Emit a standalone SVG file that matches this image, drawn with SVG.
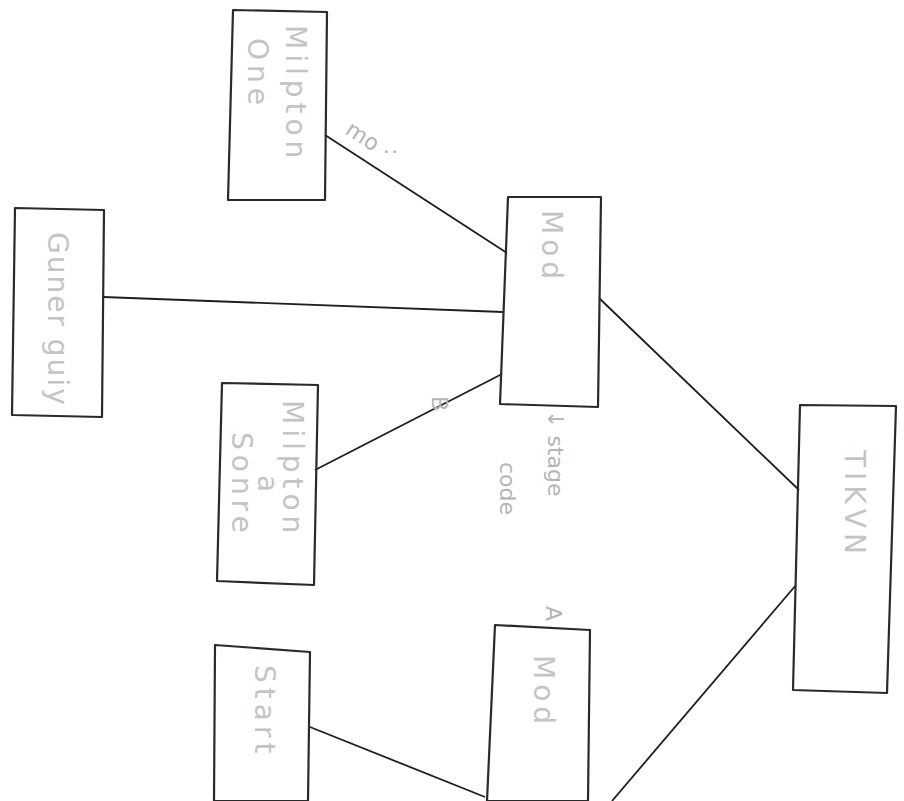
<svg xmlns="http://www.w3.org/2000/svg" width="904" height="801" viewBox="0 0 904 801">
<style>
.box{fill:none;stroke:#2a2a2a;stroke-width:2.2;stroke-linejoin:round}
.edge{fill:none;stroke:#1e1e1e;stroke-width:1.8}
.t{font-family:"DejaVu Sans",sans-serif;font-size:28px;fill:#c4c4c4;letter-spacing:5px}
.s{font-family:"DejaVu Sans",sans-serif;font-size:22px;fill:#b4b4b4}
</style>
<rect width="904" height="801" fill="#ffffff"/>
<g id="connectors">
<line class="edge" x1="325" y1="135" x2="507" y2="253"/>
<line class="edge" x1="103" y1="297" x2="503" y2="312"/>
<line class="edge" x1="315" y1="470" x2="502" y2="374"/>
<line class="edge" x1="599" y1="298" x2="799" y2="490"/>
<line class="edge" x1="796" y1="585" x2="612" y2="801"/>
<line class="edge" x1="310" y1="727" x2="485" y2="797"/>
<text class="s" transform="translate(344,133) rotate(33)">mo</text>
<text class="s" transform="translate(385,148) rotate(90)">:</text>
<text class="s" transform="translate(432,396) rotate(90)">B</text>
<text class="s" transform="translate(548,410) rotate(90)">↓ stage</text>
<text class="s" transform="translate(500,462) rotate(90)">code</text>
<text class="s" transform="translate(546,606) rotate(90)">A</text>
</g>
<g id="node-milpton-one">
<polygon class="box" points="233,10 327,12 325,200 228,200"/>
<text class="t" transform="translate(286,25) rotate(90)">Milpton</text>
<text class="t" transform="translate(248,38) rotate(90)">One</text>
</g>
<g id="node-guner">
<polygon class="box" points="15,208 104,210 102,417 12,415"/>
<text class="t" style="letter-spacing:2px" transform="translate(48,232) rotate(90)">Guner guiy</text>
</g>
<g id="node-mod">
<polygon class="box" points="508,197 601,197 598,407 500,404"/>
<text class="t" transform="translate(542,210) rotate(90)">Mod</text>
</g>
<g id="node-milpton-sonre">
<polygon class="box" points="222,383 318,385 314,585 217,581"/>
<text class="t" transform="translate(283,400) rotate(90)">Milpton</text>
<text class="t" transform="translate(258,475) rotate(90)">a</text>
<text class="t" transform="translate(232,432) rotate(90)">Sonre</text>
</g>
<g id="node-tikun">
<polygon class="box" points="800,405 896,406 887,693 793,690"/>
<text class="t" transform="translate(845,450) rotate(90)">TIKVN</text>
</g>
<g id="node-start">
<polygon class="box" points="215,645 310,652 308,801 214,801"/>
<text class="t" transform="translate(255,665) rotate(90)">Start</text>
</g>
<g id="node-mod2">
<polygon class="box" points="495,625 590,630 588,801 487,801"/>
<text class="t" transform="translate(534,655) rotate(90)">Mod</text>
</g>
</svg>
